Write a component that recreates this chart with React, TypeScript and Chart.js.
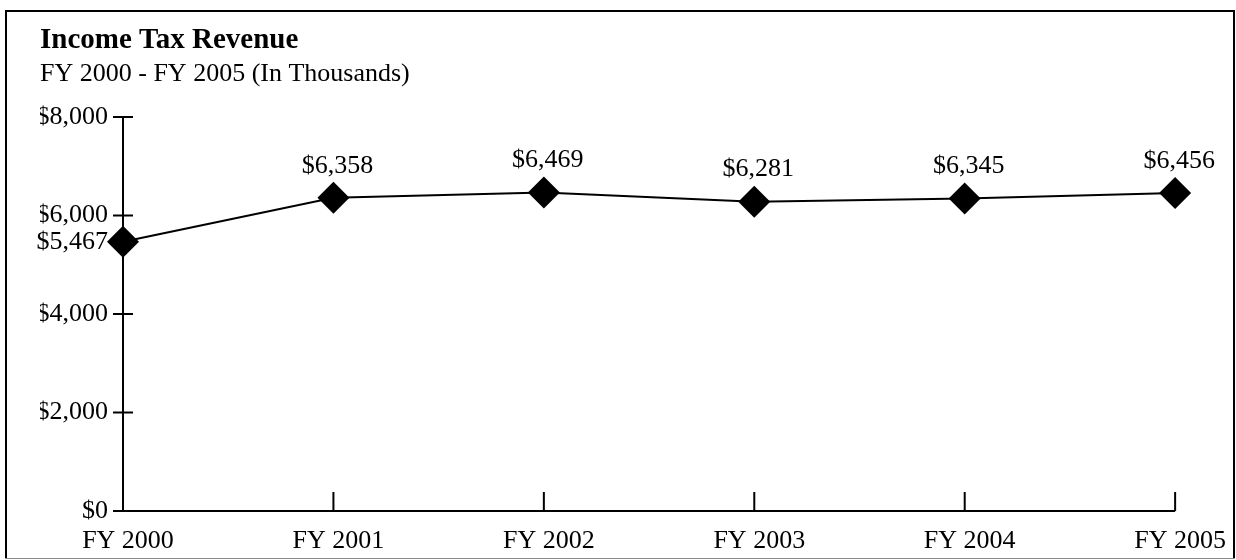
import React, { useEffect, useRef } from "react";
import { Chart, registerables } from "chart.js";

Chart.register(...registerables);

const categories = ["FY 2000", "FY 2001", "FY 2002", "FY 2003", "FY 2004", "FY 2005"];
const revenue = [5467, 6358, 6469, 6281, 6345, 6456];
const yMin = 0;
const yMax = 8000;
const yStep = 2000;
const titleText = "Income Tax Revenue";
const subtitleText = "FY 2000 - FY 2005 (In Thousands)";

const FONT = "'Liberation Serif', 'Times New Roman', Times, serif";
const fmt = (v: number) => "$" + Math.round(v).toLocaleString("en-US");

const decorPlugin = {
  id: "decor",
  beforeDraw(chart: any) {
    const ctx = chart.ctx;
    ctx.save();
    ctx.fillStyle = "#ffffff";
    ctx.fillRect(0, 0, chart.width, chart.height);
    // outer frame
    ctx.fillStyle = "#000000";
    ctx.fillRect(5, 10, 1230, 2); // top
    ctx.fillRect(5, 10, 2, 549); // left
    ctx.fillRect(1233, 10, 2, 549); // right
    ctx.fillStyle = "#8a8a8a";
    ctx.fillRect(5, 558, 1230, 1); // bottom
    ctx.restore();
  },
  beforeDatasetsDraw(chart: any) {
    const ctx = chart.ctx;
    const xs = chart.scales.x;
    const ys = chart.scales.y;
    const x0 = xs.getPixelForValue(0);
    const y0 = ys.getPixelForValue(yMin);
    const yTop = ys.getPixelForValue(yMax);
    ctx.save();
    ctx.strokeStyle = "#000";
    ctx.lineWidth = 2;
    ctx.lineCap = "butt";
    ctx.beginPath();
    // y axis line
    ctx.moveTo(x0, yTop);
    ctx.lineTo(x0, y0);
    // y tick marks crossing axis
    ys.ticks.forEach((t: any) => {
      const py = ys.getPixelForValue(t.value);
      ctx.moveTo(x0 - 10, py);
      ctx.lineTo(x0 + 10, py);
    });
    // x axis line
    const xEnd = xs.getPixelForValue(categories.length - 1);
    ctx.moveTo(x0, y0);
    ctx.lineTo(xEnd, y0);
    // x tick marks (upward)
    for (let i = 1; i < categories.length; i++) {
      const px = xs.getPixelForValue(i);
      ctx.moveTo(px, y0 - 19);
      ctx.lineTo(px, y0);
    }
    ctx.stroke();
    ctx.restore();
  },
  afterDatasetsDraw(chart: any) {
    const ctx = chart.ctx;
    const meta = chart.getDatasetMeta(0);
    ctx.save();
    ctx.fillStyle = "#000";
    ctx.font = `26px ${FONT}`;
    ctx.textBaseline = "middle";
    meta.data.forEach((pt: any, i: number) => {
      const label = fmt(revenue[i]);
      if (i === 0) {
        ctx.textAlign = "right";
        ctx.fillText(label, chart.chartArea.left - 15, pt.y);
      } else {
        ctx.textAlign = "center";
        ctx.fillText(label, pt.x + 4, pt.y - 32);
      }
    });
    ctx.restore();
  },
};

export default function App() {
  const canvasRef = useRef<HTMLCanvasElement | null>(null);

  useEffect(() => {
    if (!canvasRef.current) return;
    const chart = new Chart(canvasRef.current, {
      type: "line",
      data: {
        labels: categories,
        datasets: [
          {
            label: "Income Tax Revenue",
            data: revenue,
            borderColor: "#000",
            borderWidth: 2,
            backgroundColor: "#000",
            pointStyle: "rectRot",
            pointRadius: 16,
            pointHoverRadius: 16,
            pointBackgroundColor: "#000",
            pointBorderColor: "#000",
            pointBorderWidth: 0,
            tension: 0,
            fill: false,
            clip: false as any,
          },
        ],
      },
      options: {
        responsive: false,
        animation: false,
        devicePixelRatio: 1,
        color: "#000",
        layout: { padding: { left: 40, right: 59, top: 13, bottom: 0 } },
        plugins: {
          legend: { display: false },
          tooltip: { enabled: false },
          title: {
            display: true,
            text: titleText,
            align: "start",
            color: "#000",
            font: { family: FONT, size: 29, weight: "bold" },
            padding: { top: 10, bottom: 0 },
          },
          subtitle: {
            display: true,
            text: subtitleText,
            align: "start",
            color: "#000",
            font: { family: FONT, size: 26, weight: "normal" },
            padding: { top: 1, bottom: 27 },
          },
        },
        scales: {
          x: {
            type: "category",
            offset: false,
            grid: { display: false, drawTicks: false },
            border: { display: false },
            ticks: {
              color: "#000",
              font: { family: FONT, size: 26 },
              padding: 15,
              labelOffset: 5,
              maxRotation: 0,
              autoSkip: false,
            },
            afterFit: (s: any) => {
              s.height = 49;
            },
          },
          y: {
            min: yMin,
            max: yMax,
            grid: { display: false, drawTicks: false },
            border: { display: false },
            ticks: {
              stepSize: yStep,
              color: "#000",
              font: { family: FONT, size: 26 },
              padding: 15,
              callback: (v: any) => fmt(Number(v)),
            },
            afterFit: (s: any) => {
              s.width = 83;
            },
          },
        },
      } as any,
      plugins: [decorPlugin],
    });
    return () => chart.destroy();
  }, []);

  return (
    <div style={{ position: "absolute", left: 0, top: 0, width: 1236, height: 560 }}>
      <canvas ref={canvasRef} width={1236} height={560} />
    </div>
  );
}
